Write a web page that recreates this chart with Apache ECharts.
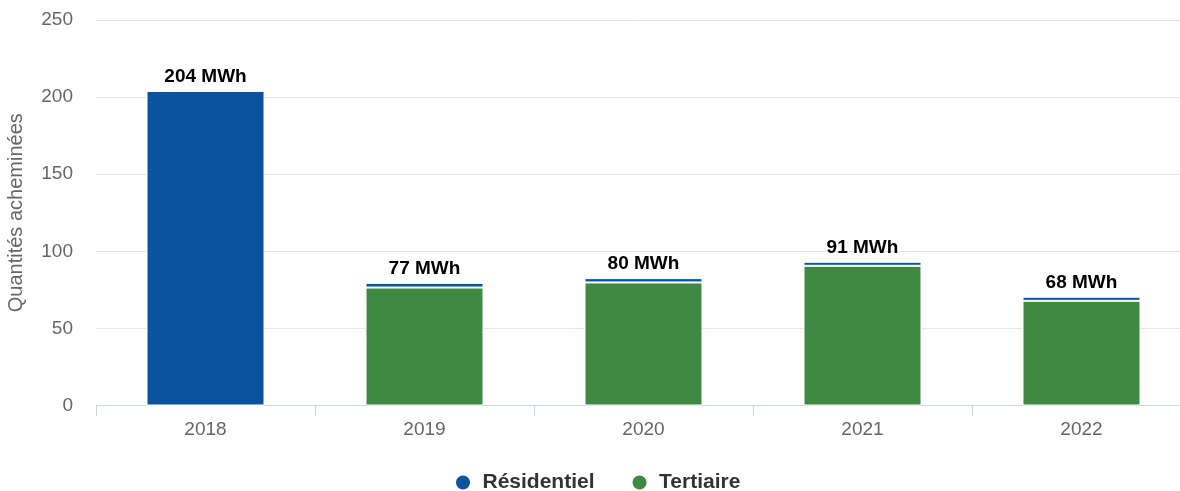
<!DOCTYPE html>
<html>
<head>
<meta charset="utf-8">
<script src="https://cdn.jsdelivr.net/npm/echarts@6/dist/echarts.min.js"></script>
<style>
  html, body { margin: 0; padding: 0; background: #fff; }
  #chart { width: 1180px; height: 491px; }
</style>
</head>
<body>
<div id="chart"></div>
<script>
const years = ['2018', '2019', '2020', '2021', '2022']
const residentiel = [204, 3, 2.8, 2.6, 2.6]
const tertiaire = [0, 76.5, 79.8, 90.6, 67.9]
const totalLabels = [204, 77, 80, 91, 68]
const yTicks = [0, 50, 100, 150, 200, 250]

const font = 'Liberation Sans, Arial, sans-serif'
const chart = echarts.init(document.getElementById('chart'))

chart.setOption({
  animation: false,
  textStyle: { fontFamily: font },
  grid: { left: 96, top: 20, width: 1095, bottom: 85.5, outerBoundsMode: 'none', containLabel: false },
  legend: {
    top: 467,
    left: 449,
    icon: 'circle',
    itemWidth: 29,
    itemHeight: 16,
    itemGap: 36,
    textStyle: { fontSize: 21, fontWeight: 'bold', color: '#333', fontFamily: font },
    data: ['Résidentiel', 'Tertiaire']
  },
  xAxis: {
    type: 'category',
    data: years,
    axisLine: { lineStyle: { color: '#ccd6eb' } },
    axisTick: { show: true, length: 11, lineStyle: { color: '#ccd6eb' } },
    axisLabel: { fontSize: 19, color: '#666', margin: 15 }
  },
  yAxis: {
    type: 'value',
    min: yTicks[0],
    max: yTicks[yTicks.length - 1],
    interval: 50,
    name: 'Quantités acheminées',
    nameLocation: 'middle',
    nameGap: 70,
    nameTextStyle: { fontSize: 20, color: '#666' },
    axisLabel: { fontSize: 19, color: '#666', margin: 23 },
    splitLine: { lineStyle: { color: '#e6e6e6' } }
  },
  series: [
    {
      name: 'Tertiaire',
      type: 'bar',
      stack: 'total',
      barWidth: 118,
      data: tertiaire,
      itemStyle: { color: '#3f8944', borderColor: '#fff', borderWidth: 1 }
    },
    {
      name: 'Résidentiel',
      type: 'bar',
      stack: 'total',
      barWidth: 118,
      data: residentiel,
      itemStyle: { color: '#0b53a1', borderColor: '#fff', borderWidth: 1 },
      label: {
        show: true,
        position: 'top',
        distance: 5,
        fontSize: 19,
        fontWeight: 'bold',
        color: '#000',
        fontFamily: font,
        formatter: p => totalLabels[p.dataIndex] + ' MWh'
      }
    }
  ]
})
</script>
</body>
</html>
